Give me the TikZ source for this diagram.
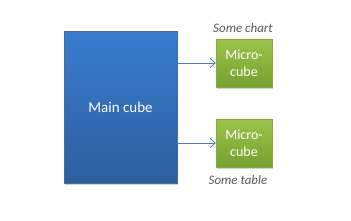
\documentclass[tikz,border=0pt]{standalone}
\usepackage{fontspec}
\setmainfont{Carlito}
\usetikzlibrary{arrows.meta,shadows}
\definecolor{bluetop}{HTML}{3A7CCF}
\definecolor{bluebot}{HTML}{2D5E9E}
\definecolor{greentop}{HTML}{9CC34B}
\definecolor{greenbot}{HTML}{76A12E}
\definecolor{arrowc}{HTML}{4A7EBB}
\definecolor{labelc}{HTML}{595959}
\tikzset{
  maincube/.style={draw=bluebot!90!white, top color=bluetop, bottom color=bluebot,
    minimum width=113pt, minimum height=152pt, inner sep=0pt,
    text=white, font=\fontsize{15}{18}\selectfont,
    drop shadow={shadow xshift=1pt, shadow yshift=-1.5pt, opacity=0.35}},
  microcube/.style={draw=greenbot!90!white, top color=greentop, bottom color=greenbot,
    minimum width=56pt, minimum height=48pt, inner sep=0pt, align=center,
    text=white, font=\fontsize{14}{17}\selectfont,
    drop shadow={shadow xshift=1pt, shadow yshift=-1.5pt, opacity=0.35}},
  caption/.style={text=labelc, font=\fontsize{13}{15}\selectfont\itshape, inner sep=0pt},
  link/.style={draw=arrowc, line width=0.8pt, -{Straight Barb[length=5pt,width=9pt]}}
}
\begin{document}
\begin{tikzpicture}[x=1pt,y=-1pt]
\useasboundingbox (0,0) rectangle (351,220);
\node[maincube] (main) at (120.5,107) {Main cube};
\node[microcube] (mc1) at (244,63) {Micro-\\cube};
\node[microcube] (mc2) at (244,143) {Micro-\\cube};
\node[caption] (cap1) at (243,28) {Some chart};
\node[caption] (cap2) at (238,180) {Some table};
\draw[link] (main.east |- mc1.west) -- (mc1.west);
\draw[link] (main.east |- mc2.west) -- (mc2.west);
\end{tikzpicture}
\end{document}
